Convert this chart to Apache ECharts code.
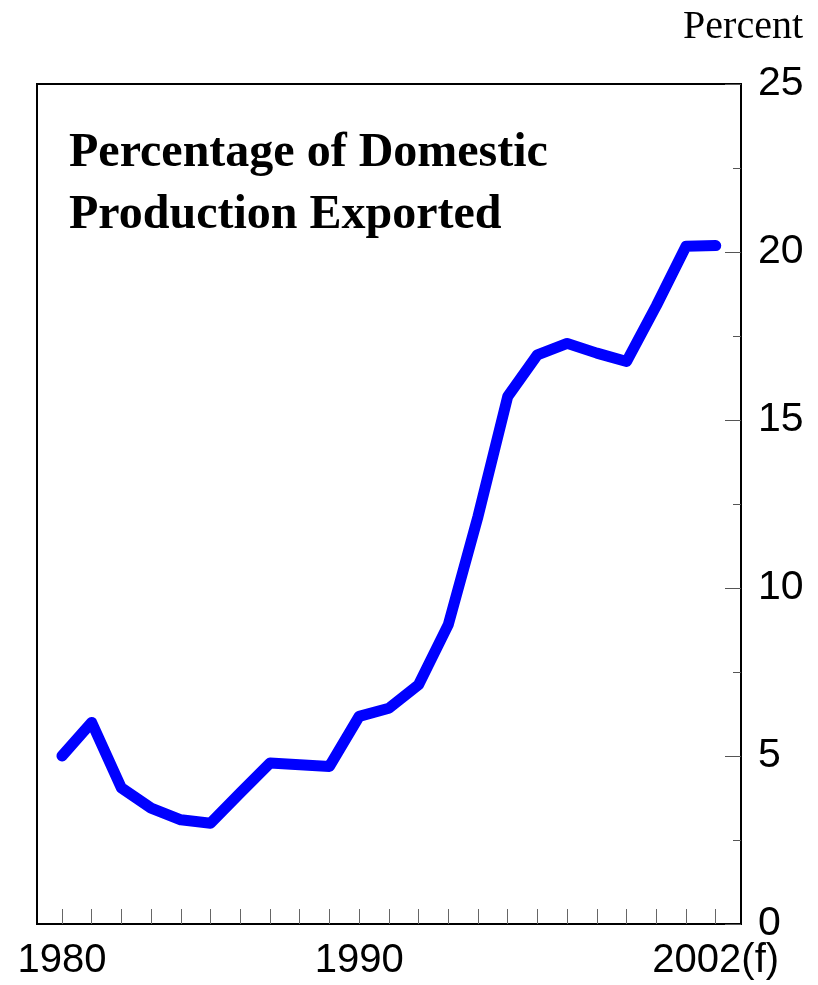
<!DOCTYPE html>
<html>
<head>
<meta charset="utf-8">
<script src="https://cdn.jsdelivr.net/npm/echarts@6/dist/echarts.min.js"></script>
<style>
html,body{margin:0;padding:0;background:#fff;}
#chart{width:818px;height:985px;}
</style>
</head>
<body>
<div id="chart"></div>
<script>
const years = [1980,1981,1982,1983,1984,1985,1986,1987,1988,1989,1990,1991,1992,1993,1994,1995,1996,1997,1998,1999,2000,2001,2002];
const exportShare = [5.0,6.0,4.05,3.45,3.1,3.0,3.9,4.79,4.74,4.69,6.18,6.42,7.12,8.91,12.13,15.7,16.94,17.28,16.99,16.74,18.4,20.17,20.19];
const xLabelYears = [1980,1990,2002];
const yTicks = [0,5,10,15,20,25];
const titleText = 'Percentage of Domestic\nProduction Exported';
const unitText = 'Percent';

const chart = echarts.init(document.getElementById('chart'), null, {renderer:'canvas'});
chart.setOption({
  animation:false,
  backgroundColor:'#fff',
  title:[
    {text:titleText, left:69, top:123, padding:0,
     textStyle:{fontFamily:'Liberation Serif', fontWeight:'bold', fontSize:48, lineHeight:62, color:'#000'}},
    {text:unitText, right:15, top:8, padding:0,
     textStyle:{fontFamily:'Liberation Serif', fontWeight:'normal', fontSize:40, lineHeight:38, color:'#000'}}
  ],
  grid:{left:37, right:77, top:84, bottom:61, show:true, borderColor:'#000', borderWidth:2, backgroundColor:'transparent'},
  xAxis:{
    type:'value', min:1979.16, max:2002.85, position:'bottom',
    axisLine:{show:true, lineStyle:{color:'#000', width:2}},
    axisTick:{show:true, inside:true, length:15, customValues:years, lineStyle:{color:'#666', width:1}},
    axisLabel:{show:true, margin:17, customValues:xLabelYears, fontFamily:'Liberation Sans', fontSize:40, color:'#000',
      formatter:function(v){ return v===2002 ? '2002(f)' : String(v); }},
    splitLine:{show:false}
  },
  yAxis:{
    type:'value', min:yTicks[0], max:yTicks[yTicks.length-1], interval:5, position:'right',
    axisLine:{show:true, lineStyle:{color:'#000', width:2}},
    axisTick:{show:true, inside:true, length:16, lineStyle:{color:'#555', width:1}},
    minorTick:{show:true, splitNumber:2, length:8, lineStyle:{color:'#555', width:1}},
    axisLabel:{margin:17, fontFamily:'Liberation Sans', fontSize:41, color:'#000', padding:[10,0,0,0]},
    splitLine:{show:false}, minorSplitLine:{show:false}
  },
  series:[{
    type:'line',
    data: years.map((y,i)=>[y, exportShare[i]]),
    showSymbol:false,
    lineStyle:{color:'#0000ff', width:11, cap:'round', join:'round'},
    z:3
  }]
});
</script>
</body>
</html>
